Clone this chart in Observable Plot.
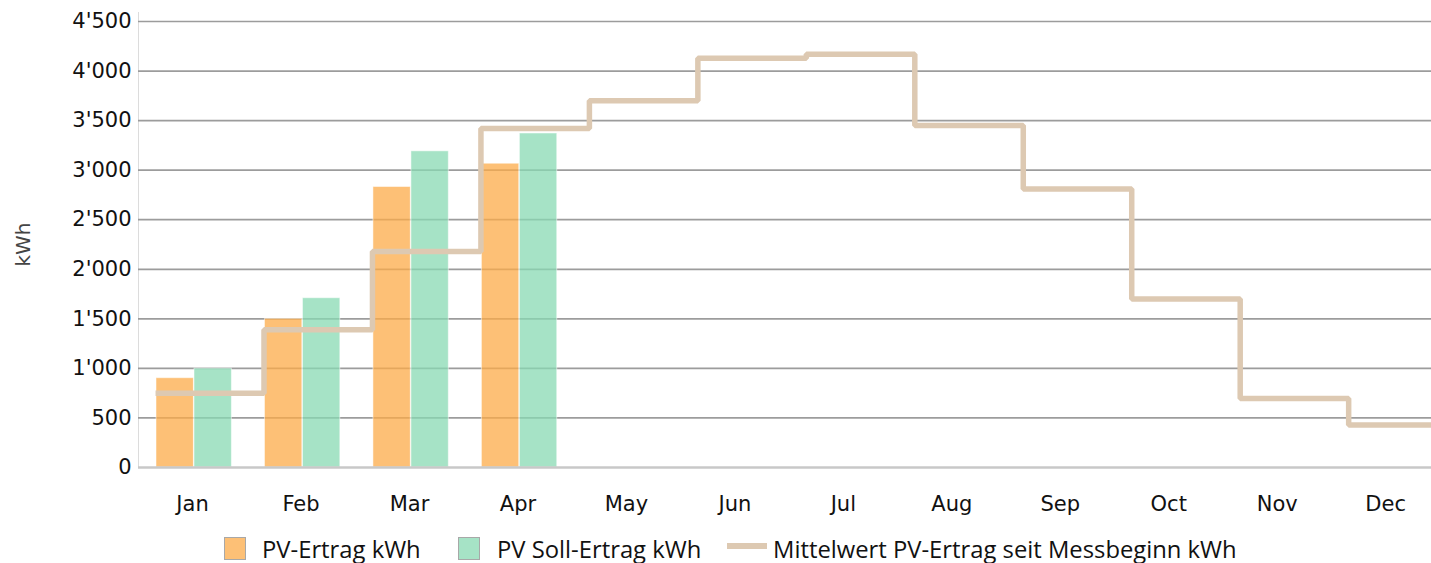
<!DOCTYPE html>
<html>
<head>
<meta charset="utf-8">
<script src="https://cdn.jsdelivr.net/npm/d3@7"></script>
<script src="https://cdn.jsdelivr.net/npm/@observablehq/plot@0.6"></script>
<style>
  html, body { margin: 0; padding: 0; background: white; overflow: hidden; }
  #wrap { position: relative; width: 1431px; height: 563px; }
  #legend { position: absolute; left: 0; top: 525px; width: 1431px; height: 38px;
            font-family: "Open Sans", sans-serif; font-size: 23.8px; color: #111; }
  .item { position: absolute; top: 7px; height: 34px; display: flex; align-items: center; white-space: nowrap; }
  .sw { width: 20px; height: 21px; border: 1px solid #a8a8a8; box-sizing: content-box; margin-top: -2px; }
  .ln { width: 40px; height: 6px; margin-top: -6px; }
</style>
</head>
<body>
<div id="wrap"><div id="chart"></div><div id="legend"></div></div>
<script>
// ---- data ----
const months = ["Jan", "Feb", "Mar", "Apr", "May", "Jun", "Jul", "Aug", "Sep", "Oct", "Nov", "Dec"];
const barMonths = ["Jan", "Feb", "Mar", "Apr"];
const pvErtrag = [901, 1500, 2830, 3065];
const pvSoll = [998, 1708, 3190, 3370];
const mittelwert = [750, 1390, 2180, 3420, 3700, 4130, 4170, 3450, 2810, 1700, 695, 430];
const yTicks = [0, 500, 1000, 1500, 2000, 2500, 3000, 3500, 4000, 4500];
const seriesNames = ["PV-Ertrag kWh", "PV Soll-Ertrag kWh", "Mittelwert PV-Ertrag seit Messbeginn kWh"];
const colors = { ertrag: "#fcab48", soll: "#88dab3", mittel: "#ddc9b2" };

const bars = barMonths.map((m, i) => ({ month: m, ertrag: pvErtrag[i], soll: pvSoll[i] }));
const mean = months.map((m, i) => ({ month: m, value: mittelwert[i] }));

const W = 1431, H = 525;
const fmt = d => d3.format(",")(d).replace(/,/g, "'");

// step-after curve whose last level continues to the right edge
function stepExtend(context) {
  const c = d3.curveStepAfter(context);
  let lx, ly;
  return {
    areaStart() { c.areaStart(); }, areaEnd() { c.areaEnd(); },
    lineStart() { c.lineStart(); },
    point(x, y) { lx = x; ly = y; c.point(x, y); },
    lineEnd() { c.point(lx + 200, ly); c.lineEnd(); }
  };
}

const leftLine = (index, scales, values, dims) => {
  const g = document.createElementNS("http://www.w3.org/2000/svg", "line");
  const x = dims.marginLeft + 0.5;
  g.setAttribute("x1", x); g.setAttribute("x2", x);
  g.setAttribute("y1", scales.y(4500) - 9); g.setAttribute("y2", scales.y(0));
  g.setAttribute("stroke", "#dcdcdc"); g.setAttribute("stroke-width", 1);
  return g;
};

const chart = Plot.plot({
  width: W, height: H,
  marginLeft: 138, marginRight: 0, marginTop: 21, marginBottom: 58,
  style: { fontFamily: "DejaVu Sans", fontSize: "21px", color: "#111", background: "white", overflow: "hidden" },
  x: { type: "band", domain: months, range: [137.8, 1439.4], padding: 0, round: false, tickSize: 0, tickPadding: 29, label: null },
  y: { domain: [0, 4500], ticks: yTicks, tickFormat: fmt, tickSize: 0, tickPadding: 7, label: null },
  marks: [
    leftLine,
    Plot.ruleY(yTicks.filter(d => d > 0), { stroke: "#9c9c9c", strokeWidth: 1.7 }),
    Plot.barY(bars, { x: "month", y: "ertrag", fill: colors.ertrag, fillOpacity: 0.75,
      insetLeft: 18.2, insetRight: 52.9, stroke: "white", strokeOpacity: 0.5, strokeWidth: 1 }),
    Plot.barY(bars, { x: "month", y: "soll", fill: colors.soll, fillOpacity: 0.75,
      insetLeft: 56.2, insetRight: 14.9, stroke: "white", strokeOpacity: 0.5, strokeWidth: 1 }),
    Plot.ruleY([0], { stroke: "#c8c8c8", strokeWidth: 2.5 }),
    Plot.lineY(mean, { x: "month", y: "value", stroke: colors.mittel, strokeWidth: 5.5,
      curve: stepExtend, dx: -37, strokeLinejoin: "miter", strokeLinecap: "butt" }),
    Plot.text(["kWh"], { frameAnchor: "left", textAnchor: "middle", dx: -115, rotate: -90, fontSize: 20, fill: "#444" })
  ]
});
document.getElementById("chart").appendChild(chart);

// ---- legend ----
const legend = document.getElementById("legend");
const items = [
  { left: 224, type: "sw", color: colors.ertrag, gap: 16, label: seriesNames[0] },
  { left: 458, type: "sw", color: colors.soll, gap: 17, label: seriesNames[1] },
  { left: 727, type: "ln", color: colors.mittel, gap: 6, label: seriesNames[2] }
];
for (const it of items) {
  const d = document.createElement("div");
  d.className = "item";
  d.style.left = it.left + "px";
  const s = document.createElement("span");
  s.className = it.type;
  s.style.background = it.type === "sw" ? d3.color(it.color).copy({opacity: 0.75}).toString() : it.color;
  s.style.marginRight = it.gap + "px";
  const t = document.createElement("span");
  t.textContent = it.label;
  d.appendChild(s); d.appendChild(t);
  legend.appendChild(d);
}
</script>
</body>
</html>
